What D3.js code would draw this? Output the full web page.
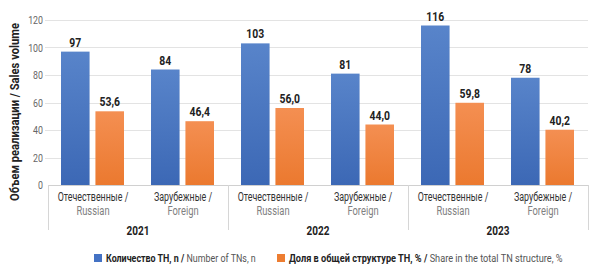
<!DOCTYPE html>
<html><head><meta charset="utf-8">
<script src="https://cdn.jsdelivr.net/npm/d3@7"></script>
<style>
body{margin:0;background:#fff;}
text{font-family:Roboto,"Liberation Sans",sans-serif;}
</style></head>
<body><svg id="c" width="600" height="274"></svg>
<script>
const years = ["2021","2022","2023"];
const originsRu = ["Отечественные /","Зарубежные /"];
const originsEn = ["Russian","Foreign"];
const countValues = [97,84,103,81,116,78];
const shareValues = [53.6,46.4,56.0,44.0,59.8,40.2];
const yTicks = [0,20,40,60,80,100,120];
const seriesRu = ["Количество ТН, n / ","Доля в общей структуре ТН, % / "];
const seriesEn = ["Number of TNs, n","Share in the total TN structure, %"];
const yTitle = "Объем реализации / Sales volume";

const svg = d3.select("#c");
const x0 = 48, x1 = 588, yBase = 185, yTop = 20;
const SX = 0.8; // condensed look

function place(sel, fx, fy, sx){
  const k = sx || SX;
  return sel.attr("transform", (d,i)=>`translate(${fx(d,i)},${fy(d,i)}) scale(${k},1)`);
}

const cats = [];
years.forEach((y,i)=>originsRu.forEach((o,j)=>cats.push({year:y, ru:o, en:originsEn[j], idx:i*2+j})));

const x = d3.scaleBand().domain(cats.map(d=>d.idx)).range([x0,x1]);
const xs = d3.scaleBand().domain([0,1]).range([13, x.bandwidth()-14]).paddingInner(0.17);
const y = d3.scaleLinear().domain([0,120]).range([yBase,yTop]);
const xYear = d3.scaleBand().domain(years).range([x0,x1]);

const defs = svg.append("defs");
const g1 = defs.append("linearGradient").attr("id","gb").attr("x1",0).attr("y1",0).attr("x2",0).attr("y2",1);
g1.append("stop").attr("offset","0%").attr("stop-color","#5884ca");
g1.append("stop").attr("offset","100%").attr("stop-color","#3c68b5");
const g2 = defs.append("linearGradient").attr("id","go").attr("x1",0).attr("y1",0).attr("x2",0).attr("y2",1);
g2.append("stop").attr("offset","0%").attr("stop-color","#f48f52");
g2.append("stop").attr("offset","100%").attr("stop-color","#eb792f");

// gridlines
svg.append("g").selectAll("line").data(yTicks.filter(t=>t>0)).join("line")
  .attr("x1",x0-3).attr("x2",x1).attr("y1",d=>Math.round(y(d))+0.5).attr("y2",d=>Math.round(y(d))+0.5)
  .attr("stroke","#e3e3e3").attr("stroke-width",1);

// y tick labels
place(svg.append("g").selectAll("text").data(yTicks).join("text"),
  ()=>43, d=>y(d)+4)
  .attr("text-anchor","end").attr("font-size",11).attr("fill","#666")
  .text(d=>d);

// y title
svg.append("text").attr("transform",`translate(19,112) rotate(-90)`)
  .attr("text-anchor","middle").attr("font-size",12).attr("font-weight","bold").attr("fill","#222")
  .attr("textLength",178).attr("lengthAdjust","spacingAndGlyphs")
  .text(yTitle);

// bars
const series = [countValues, shareValues];
const fills = ["url(#gb)","url(#go)"];
series.forEach((vals,s)=>{
  const gg = svg.append("g");
  gg.selectAll("rect").data(cats).join("rect")
    .attr("x",d=>x(d.idx)+xs(s)).attr("width",xs.bandwidth())
    .attr("y",d=>y(vals[d.idx])).attr("height",d=>yBase-y(vals[d.idx]))
    .attr("fill",fills[s]);
  place(gg.selectAll("text").data(cats).join("text"),
    d=>x(d.idx)+xs(s)+xs.bandwidth()/2, d=>y(vals[d.idx])-5)
    .attr("text-anchor","middle").attr("font-size",13).attr("font-weight","bold").attr("fill","#222")
    .text(d=> s===0 ? d3.format("d")(vals[d.idx]) : d3.format(".1f")(vals[d.idx]).replace(".",","));
});

// baseline
svg.append("line").attr("x1",x0).attr("x2",x1).attr("y1",yBase+0.5).attr("y2",yBase+0.5)
  .attr("stroke","#d0d0d0").attr("stroke-width",1);

// separators
svg.append("g").selectAll("line").data([...years.map(d=>xYear(d)), x1]).join("line")
  .attr("x1",d=>d+0.5).attr("x2",d=>d+0.5).attr("y1",yBase).attr("y2",230)
  .attr("stroke","#d6d6d6").attr("stroke-width",1);

// category labels
const cl = svg.append("g").selectAll("g").data(cats).join("g");
place(cl.append("text"), d=>x(d.idx)+x.bandwidth()/2, ()=>201, 0.71)
  .attr("text-anchor","middle").attr("font-size",12.5).attr("fill","#333").text(d=>d.ru);
place(cl.append("text"), d=>x(d.idx)+x.bandwidth()/2, ()=>215, 0.75)
  .attr("text-anchor","middle").attr("font-size",12.5).attr("fill","#808080").text(d=>d.en);

// year labels
place(svg.append("g").selectAll("text").data(years).join("text"),
  d=>xYear(d)+xYear.bandwidth()/2, ()=>235)
  .attr("text-anchor","middle").attr("font-size",12.5).attr("font-weight","bold").attr("fill","#222")
  .text(d=>d);

// legend
const legX = [94, 277];
const leg = svg.append("g");
seriesRu.forEach((r,i)=>{
  leg.append("rect").attr("x",legX[i]).attr("y",254).attr("width",8).attr("height",8)
    .attr("fill", i===0 ? "#4472c4" : "#ed7d31");
  const t = leg.append("text").attr("transform",`translate(${legX[i]+12},262) scale(${i===0?0.775:SX},1)`)
    .attr("font-size",11.5);
  t.append("tspan").attr("font-weight","bold").attr("fill","#222").text(r);
  t.append("tspan").attr("fill","#555").text(seriesEn[i]);
});
</script></body></html>
